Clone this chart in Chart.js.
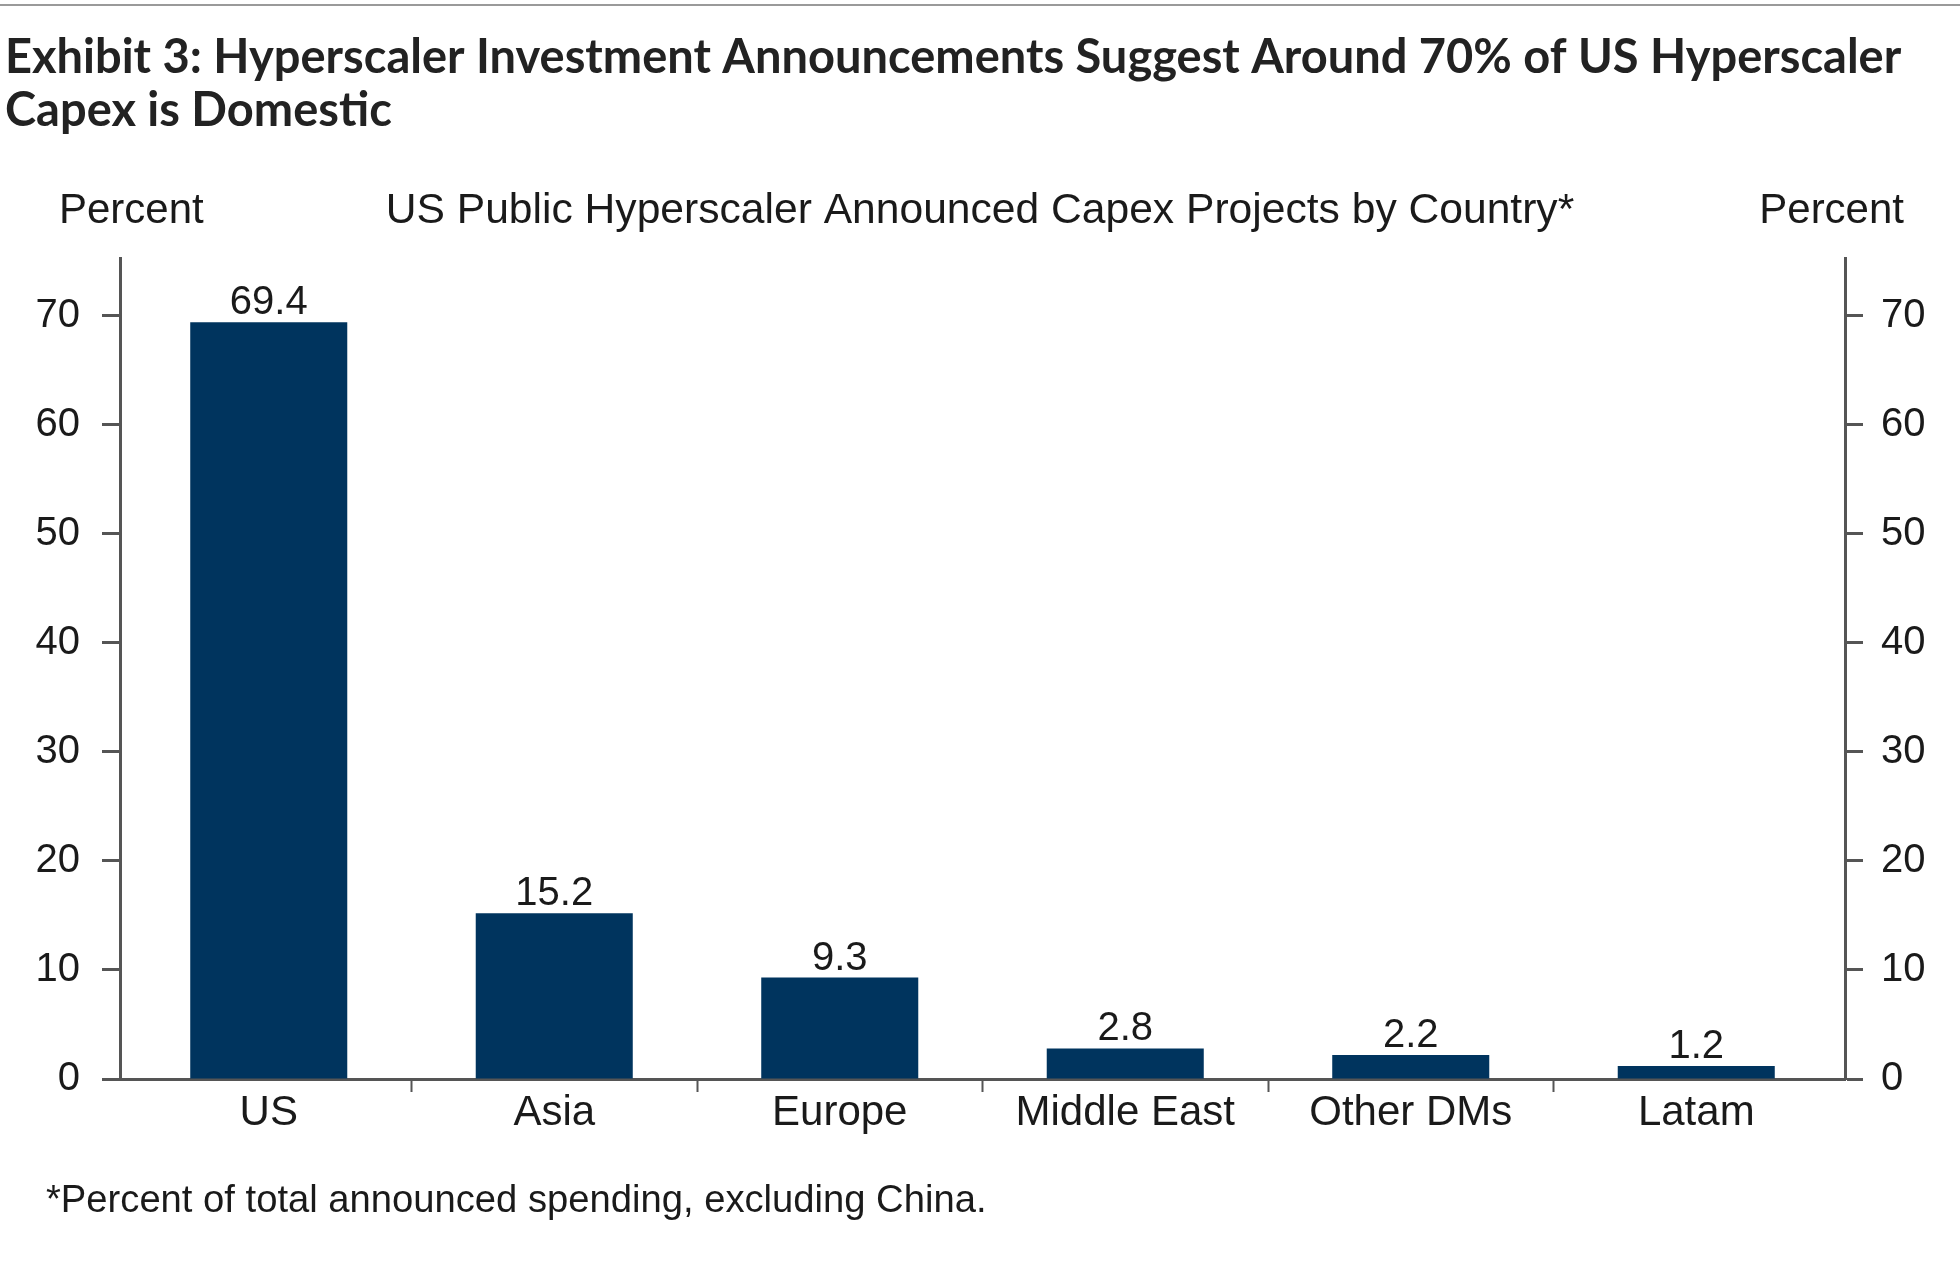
<!DOCTYPE html>
<html>
<head>
<meta charset="utf-8">
<script src="https://cdn.jsdelivr.net/npm/chart.js@4/dist/chart.umd.min.js"></script>
<style>
  html, body { margin: 0; padding: 0; background: #fff; }
  #capexChart { display: block; }
</style>
</head>
<body>
<canvas id="capexChart" width="1960" height="1265"></canvas>
<script>
// --- Data ---
const categories = ['US', 'Asia', 'Europe', 'Middle East', 'Other DMs', 'Latam'];
const shares = [69.4, 15.2, 9.3, 2.8, 2.2, 1.2];
const yTicks = [0, 10, 20, 30, 40, 50, 60, 70];

// --- Texts ---
const titleLines = [
  'Exhibit 3: Hyperscaler Investment Announcements Suggest Around 70% of US Hyperscaler',
  'Capex is Domestic'
];
const subTitle = 'US Public Hyperscaler Announced Capex Projects by Country*';
const unitLabel = 'Percent';
const footNote = '*Percent of total announced spending, excluding China.';

const TEXT = '#1a1a1a';
const AXIS = '#555555';
const BAR = '#00345e';
const SANS = '"Liberation Sans", Arial, sans-serif';
const X_INSET = 6; // categories sit slightly inside the two y axes

// --- Extra texts: title, axis headers, footnote ---
const headerPlugin = {
  id: 'headerText',
  beforeDraw(chart) {
    const c = chart.ctx;
    const area = chart.chartArea;
    c.save();
    // top rule
    c.fillStyle = '#9a9a9a';
    c.fillRect(0, 4, chart.width, 2);

    // title, fitted to the width of the first line
    c.fillStyle = '#222';
    c.textAlign = 'left';
    c.textBaseline = 'alphabetic';
    c.font = 'bold 43px Lato, "Open Sans", sans-serif';
    const w = c.measureText(titleLines[0]).width;
    const size = 43 * 1897 / w;
    c.font = 'bold ' + size.toFixed(1) + 'px Lato, "Open Sans", sans-serif';
    c.fillText(titleLines[0], 5, 73);
    c.fillText(titleLines[1], 5, 126);

    // headers above the plot
    c.fillStyle = TEXT;
    c.font = '42px ' + SANS;
    c.textAlign = 'left';
    c.fillText(unitLabel, area.left - 61, 223);
    c.textAlign = 'right';
    c.fillText(unitLabel, area.right + 59, 223);
    c.textAlign = 'center';
    c.font = '42.6px ' + SANS;
    c.fillText(subTitle, 980, 223);

    // footnote
    c.textAlign = 'left';
    c.font = '38.2px ' + SANS;
    c.fillText(footNote, 46, 1212);
    c.restore();
  }
};

// --- Pull the category band in a little from the axes ---
const insetPlugin = {
  id: 'xInset',
  afterLayout(chart) {
    const x = chart.scales.x;
    x._startPixel += X_INSET;
    x._endPixel -= X_INSET;
    x._length = x._endPixel - x._startPixel;
  }
};

// --- Value labels over the bars ---
const valuePlugin = {
  id: 'valueLabels',
  afterDatasetsDraw(chart) {
    const c = chart.ctx;
    const meta = chart.getDatasetMeta(0);
    c.save();
    c.fillStyle = TEXT;
    c.font = '40px ' + SANS;
    c.textAlign = 'center';
    c.textBaseline = 'alphabetic';
    meta.data.forEach((bar, i) => {
      c.fillText(shares[i].toFixed(1), bar.x, bar.y - 8);
    });
    c.restore();
  }
};

function yAxis(position, width, pad) {
  return {
    position: position,
    min: 0,
    max: 75.3,
    afterBuildTicks: s => { s.ticks = yTicks.map(v => ({ value: v })); },
    afterFit: s => { s.width = width; },
    border: { display: true, color: AXIS, width: 3 },
    grid: { drawOnChartArea: false, drawTicks: true, tickLength: 18, tickWidth: 3, tickColor: AXIS },
    ticks: { padding: pad, color: TEXT, font: { family: SANS, size: 40 } }
  };
}

// no tick marks at the two ends of the category axis
function xTickColor(c) {
  if (c.index === undefined || c.index === 0 || c.index >= categories.length) return 'rgba(0,0,0,0)';
  return AXIS;
}

const ctx = document.getElementById('capexChart').getContext('2d');

const capexChart = new Chart(ctx, {
  type: 'bar',
  data: {
    labels: categories,
    datasets: [{
      data: shares,
      backgroundColor: BAR,
      borderWidth: 0,
      categoryPercentage: 1,
      barPercentage: 0.55,
      yAxisID: 'y'
    }]
  },
  options: {
    responsive: false,
    animation: false,
    devicePixelRatio: 1,
    layout: { padding: { top: 258, left: 0, right: 0, bottom: 0 } },
    plugins: {
      legend: { display: false },
      title: { display: false },
      tooltip: { enabled: false }
    },
    scales: {
      x: {
        afterFit: s => { s.height = 186; },
        border: { display: true, color: AXIS, width: 3 },
        grid: {
          offset: true,
          drawOnChartArea: false,
          tickLength: 13,
          tickWidth: 2,
          tickColor: xTickColor
        },
        ticks: { padding: -4, color: TEXT, font: { family: SANS, size: 42 } }
      },
      y: yAxis('left', 120, 22),
      y2: yAxis('right', 115, 18)
    }
  },
  plugins: [headerPlugin, insetPlugin, valuePlugin]
});
</script>
</body>
</html>
